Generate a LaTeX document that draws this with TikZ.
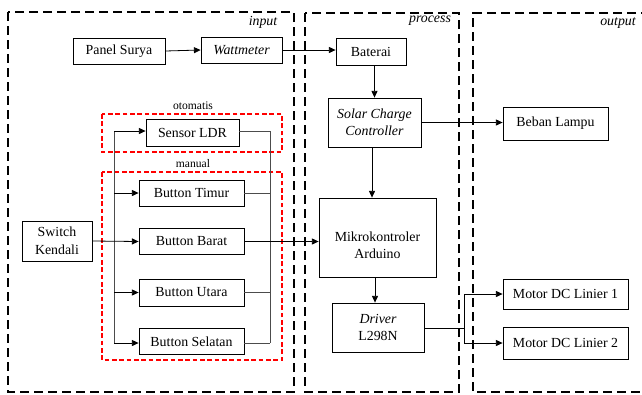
\documentclass[tikz,border=0pt]{standalone}
\usepackage{fontspec}
\setmainfont{Liberation Serif}
\usetikzlibrary{arrows.meta,calc}
\begin{document}
\begin{tikzpicture}[x=0.75pt,y=-0.75pt,
  every node/.style={font=\fontsize{10.4}{12}\selectfont},
  sz/.style 2 args={minimum width=#1*0.75pt,minimum height=#2*0.75pt},
  blk/.style={draw,line width=0.6pt,inner sep=0pt,align=center},
  arr/.style={line width=0.6pt,-{Triangle[length=5pt,width=4.5pt]}},
  ln/.style={line width=0.6pt},
  bus/.style={line width=0.6pt,draw=black!70},
  group/.style={line width=2.2pt,dash pattern=on 7pt off 3.5pt},
  redgroup/.style={draw=red,line width=1.1pt,dash pattern=on 3.5pt off 2pt},
  tag/.style={font=\fontsize{10.4}{12}\selectfont\itshape},
  small/.style={font=\fontsize{8.7}{10}\selectfont}]
\useasboundingbox (0,0) rectangle (642,394);
\clip (0,0) rectangle (642,394);
% group boxes
\draw[group] (8,12) rectangle (294,392);
\draw[group] (305,13) rectangle (459,392);
\draw[group] (650,13) -- (473,13) -- (473,392) -- (650,392);
\node[tag] (tin) at (263,22) {input};
\node[tag] (tpr) at (430,21) {process};
\node[tag] (tout) at (618,23) {output};
% red groups
\draw[redgroup] (102,114) rectangle (282,152);
\draw[redgroup] (102,172) rectangle (282,360);
\node[small] (toto) at (193,106) {otomatis};
\node[small] (tman) at (193,164) {manual};
% blocks
\node[blk,sz={92}{26}] (ps) at (119,51) {Panel Surya};
\node[blk,sz={81}{26},font=\fontsize{10.4}{12}\selectfont\itshape] (wm) at (241.5,50) {Wattmeter};
\node[blk,sz={70}{27}] (bat) at (371,51.5) {Baterai};
\node[blk,sz={93}{49},font=\fontsize{10.4}{13}\selectfont\itshape] (scc) at (374.5,122.5) {Solar Charge\\Controller};
\node[blk,sz={105}{33}] (lamp) at (555.5,123.5) {Beban Lampu};
\node[blk,sz={117}{79},font=\fontsize{10.4}{13}\selectfont] (mik) at (377.5,237.5) {\rule{0pt}{19pt}Mikrokontroler\\Arduino};
\node[blk,sz={92}{49},font=\fontsize{10.4}{13}\selectfont] (drv) at (378,327.5) {\textit{Driver}\\L298N};
\node[blk,sz={125}{30}] (m1) at (565.5,294) {Motor DC Linier 1};
\node[blk,sz={125}{32}] (m2) at (565.5,343) {Motor DC Linier 2};
\node[blk,sz={93}{27}] (ldr) at (192.5,132.5) {Sensor LDR};
\node[blk,sz={105}{26}] (tim) at (191.5,193) {Button Timur};
\node[blk,sz={105}{26}] (bar) at (191.5,241.5) {Button Barat};
\node[blk,sz={105}{27}] (uta) at (191.5,292.5) {Button Utara};
\node[blk,sz={105}{26}] (sel) at (191.5,341.5) {Button Selatan};
\node[blk,sz={70}{40},align=left,font=\fontsize{10.4}{13.5}\selectfont] (sw) at (57,241) {\hspace{2pt}Switch\\Kendali};
% connectors top
\draw[arr] (ps.east) -- (wm.west);
\draw[arr] (wm.east) -- (bat.west |- wm.east);
\draw[arr] (bat.south -| scc.north) -- (scc.north);
\draw[arr] (scc.east) -- (lamp.west |- scc.east);
\draw[arr] (scc.south -| 372,0) -- (mik.north -| 372,0);
\draw[arr] (mik.south -| 375,0) -- (drv.north -| 375,0);
% driver to motors
\coordinate (dj) at (464,328);
\draw[ln] (drv.east |- dj) -- (dj);
\draw[ln] (dj |- m1.west) -- (dj |- m2.west);
\draw[arr] (dj |- m1.west) -- (m1.west);
\draw[arr] (dj |- m2.west) -- (m2.west);
% input buses
\coordinate (lbt) at (114,131);
\coordinate (lbb) at (114,343);
\coordinate (rbt) at (270,131);
\coordinate (rbb) at (270,343);
\draw[bus] (lbt) -- (lbb);
\draw[bus] (ldr.east |- rbt) -- (rbt) -- (rbb);
\draw[arr] (lbt) -- (ldr.west |- lbt);
\draw[arr] (lbt |- tim.west) -- (tim.west);
\draw[arr] (lbt |- uta.west) -- (uta.west);
\draw[arr] (lbb) -- (sel.west |- lbb);
\draw[bus] (tim.east) -- (rbt |- tim.east);
\draw[bus] (uta.east) -- (rbt |- uta.east);
\draw[bus] (sel.east |- rbb) -- (rbb);
\draw[arr] (sw.east) -- (bar.west);
\draw[arr] (bar.east) -- (mik.west |- bar.east);
\end{tikzpicture}
\end{document}
